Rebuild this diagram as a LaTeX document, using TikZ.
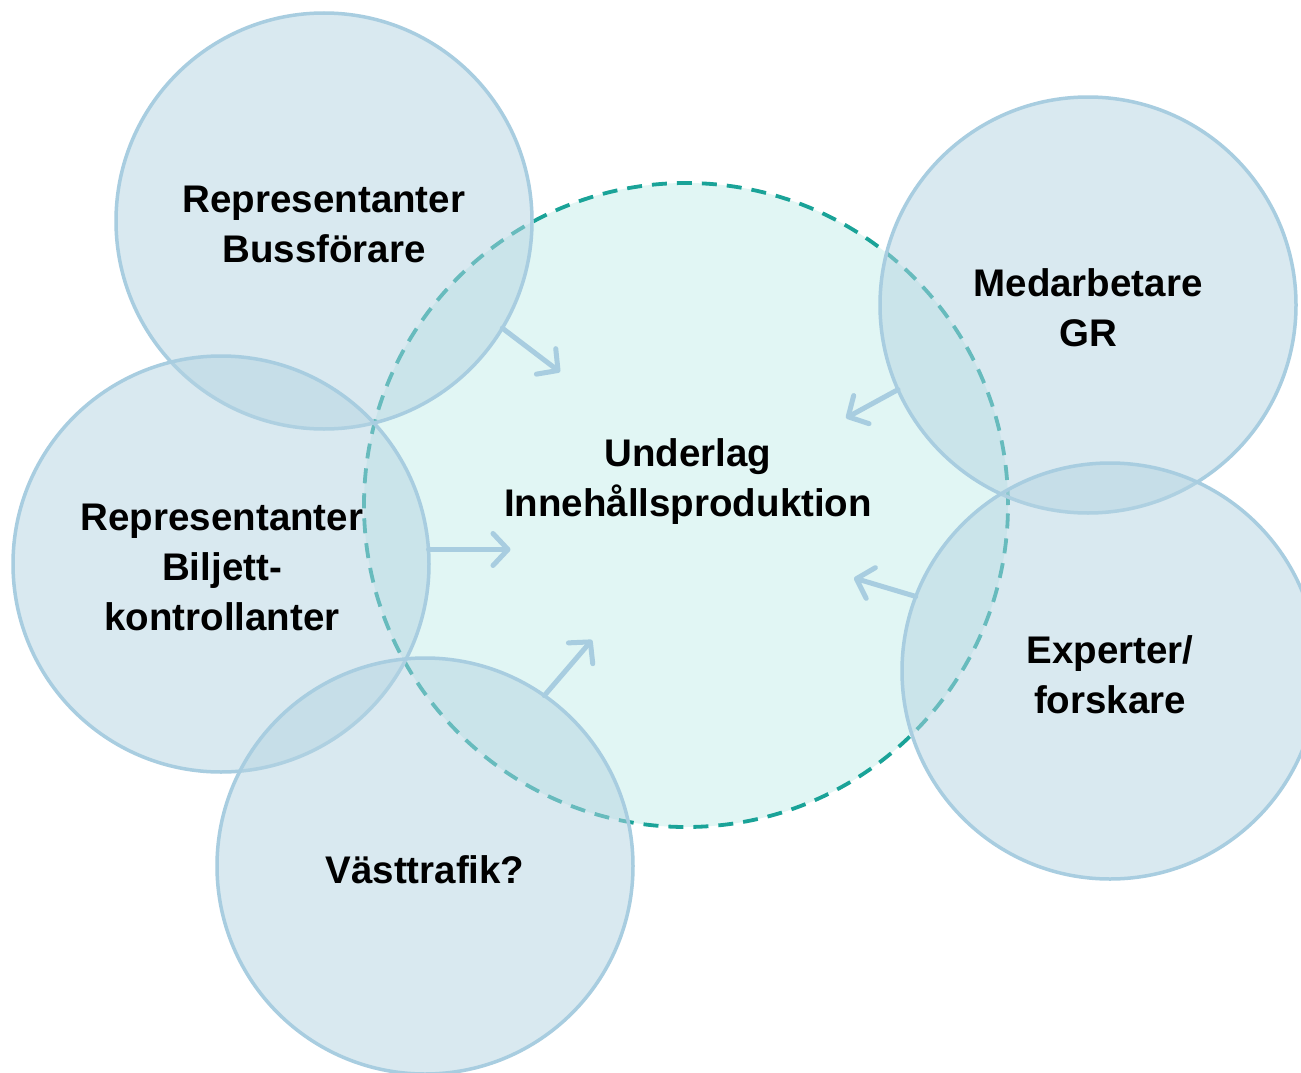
\documentclass[tikz,border=0pt]{standalone}
\usepackage{fontspec}
\setmainfont{Liberation Sans}
\usetikzlibrary{arrows.meta}
\definecolor{bfill}{HTML}{B4D4E2}
\definecolor{bline}{HTML}{A8CDE0}
\definecolor{cfill}{HTML}{E1F6F4}
\definecolor{cline}{HTML}{1AA398}
\begin{document}
\begin{tikzpicture}[x=1pt,y=-1pt,
  bubble/.style={circle,minimum size=416pt,inner sep=0pt,outer sep=0pt,fill=bfill,fill opacity=0.5,draw=bline,line width=3.5pt},
  hub/.style={circle,minimum size=644pt,inner sep=0pt,outer sep=0pt,fill=cfill,draw=cline,line width=3.8pt,dash pattern=on 15pt off 10pt},
  lbl/.style={font=\bfseries\fontsize{38.5}{50}\selectfont,align=center,text=black,inner sep=0pt},
  flow/.style={draw=bline,line width=5pt,line cap=round,-{Straight Barb[length=15pt,width=32pt,line cap=round,line join=round]}}]
\clip (0,0) rectangle (1301,1073);
\fill[white] (0,0) rectangle (1301,1073);
\node[hub] (hub) at (686,505) {};
\node[bubble] (bus) at (324,221) {};
\node[bubble] (bilj) at (221,564) {};
\node[bubble] (vt) at (425,866) {};
\node[bubble] (gr) at (1088,305) {};
\node[bubble] (exp) at (1110,671) {};
\node[lbl] (hubt) at (688,482) {Underlag\\Innehållsproduktion};
\node[lbl] (bust) at (324,224) {Representanter\\Bussförare};
\node[lbl] (biljt) at (222,567) {Representanter\\Biljett-\\kontrollanter};
\node[lbl] (vtt) at (425,870) {Västtrafik?};
\node[lbl] (grt) at (1088,308) {Medarbetare\\GR};
\node[lbl] (expt) at (1110,675) {Experter/\\forskare};
\coordinate (e1) at (560,372);
\coordinate (e3) at (592,640);
\coordinate (e4) at (846,418);
\coordinate (e5) at (854,578);
\coordinate (s2) at (bilj.4.2);
\coordinate (e2) at ([xshift=82pt]s2);
\draw[flow] (bus.-31.8) -- (e1);
\draw[flow] (s2) -- (e2);
\draw[flow] (vt.55.5) -- (e3);
\draw[flow] (gr.204) -- (e4);
\draw[flow] (exp.159.8) -- (e5);
\end{tikzpicture}
\end{document}
